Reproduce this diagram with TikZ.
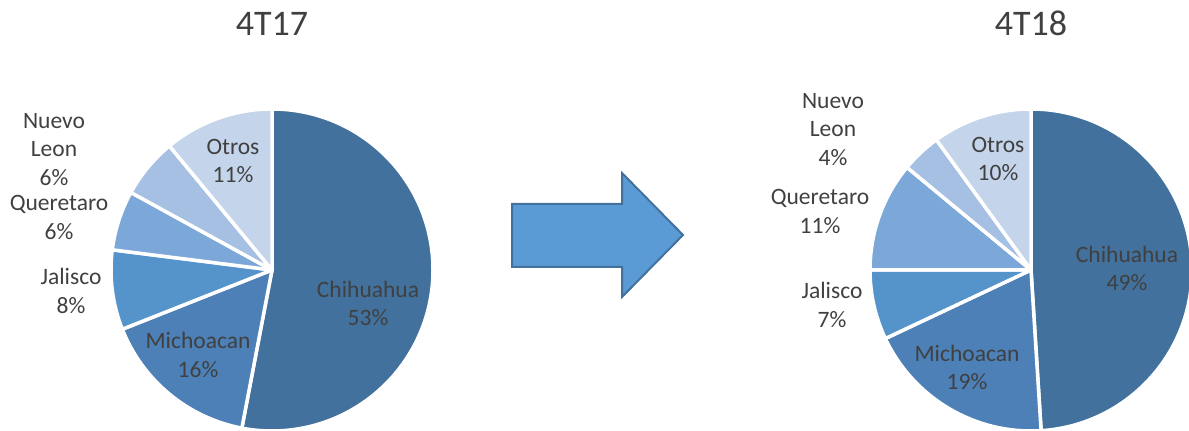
\documentclass[tikz,border=0pt]{standalone}
\usepackage{fontspec}
\setmainfont{Carlito}
\definecolor{chih}{HTML}{41719C}
\definecolor{mich}{HTML}{4C80B7}
\definecolor{jali}{HTML}{5593CB}
\definecolor{quer}{HTML}{7BA8D8}
\definecolor{nuev}{HTML}{A5C0E2}
\definecolor{otro}{HTML}{C4D4EA}
\definecolor{txtgray}{HTML}{404040}
\definecolor{arrfill}{HTML}{5B9BD5}

\begin{document}
\begin{tikzpicture}[line cap=round,line join=round,x=1pt,y=1pt,
	slice/.style={draw=white,line width=3.5pt},
	lbl/.style={text=txtgray,align=center,inner sep=0pt,font=\fontsize{23.5}{28.5}\selectfont},
	ttl/.style={text=txtgray,anchor=base,inner sep=0pt,font=\fontsize{36}{43}\selectfont}]
			\useasboundingbox (0,0) rectangle (1189,431);
			% 4T17
			\filldraw [shift={(272,161)},slice,fill=chih] (0,0) -- (90:161) arc (90:-100.8:161) -- cycle;
			\filldraw [shift={(272,161)},slice,fill=mich] (0,0) -- (-100.8:161) arc (-100.8:-158.4:161) -- cycle;
			\filldraw [shift={(272,161)},slice,fill=jali] (0,0) -- (-158.4:161) arc (-158.4:-187.2:161) -- cycle;
			\filldraw [shift={(272,161)},slice,fill=quer] (0,0) -- (-187.2:161) arc (-187.2:-208.8:161) -- cycle;
			\filldraw [shift={(272,161)},slice,fill=nuev] (0,0) -- (-208.8:161) arc (-208.8:-230.4:161) -- cycle;
			\filldraw [shift={(272,161)},slice,fill=otro] (0,0) -- (-230.4:161) arc (-230.4:-270:161) -- cycle;
			% 4T18
			\filldraw [shift={(1031,161)},slice,fill=chih] (0,0) -- (90:161) arc (90:-86.4:161) -- cycle;
			\filldraw [shift={(1031,161)},slice,fill=mich] (0,0) -- (-86.4:161) arc (-86.4:-154.8:161) -- cycle;
			\filldraw [shift={(1031,161)},slice,fill=jali] (0,0) -- (-154.8:161) arc (-154.8:-180:161) -- cycle;
			\filldraw [shift={(1031,161)},slice,fill=quer] (0,0) -- (-180:161) arc (-180:-219.6:161) -- cycle;
			\filldraw [shift={(1031,161)},slice,fill=nuev] (0,0) -- (-219.6:161) arc (-219.6:-234:161) -- cycle;
			\filldraw [shift={(1031,161)},slice,fill=otro] (0,0) -- (-234:161) arc (-234:-270:161) -- cycle;
			% arrow
			\filldraw [fill=arrfill,draw=chih,line width=2pt,line join=miter] (512,227) -- (622,227) -- (622,258) -- (683,196) -- (622,134) -- (622,164) -- (512,164) -- cycle;
			% labels
			\node[ttl] (tA) at (272,395) {4T17};
			\node[ttl] (tB) at (1031,395) {4T18};
			\node[lbl] (chA) at (368,127.5) {Chihuahua\\53\%};
			\node[lbl] (miA) at (198,76) {Michoacan\\16\%};
			\node[lbl] (jaA) at (71,140) {Jalisco\\8\%};
			\node[lbl] (quA) at (59,213.5) {Queretaro\\6\%};
			\node[lbl] (nuA) at (54,281.5) {Nuevo\\Leon\\6\%};
			\node[lbl] (otA) at (233,270) {Otros\\11\%};
			\node[lbl] (chB) at (1127,162.5) {Chihuahua\\49\%};
			\node[lbl] (miB) at (967,63.5) {Michoacan\\19\%};
			\node[lbl] (jaB) at (832,126) {Jalisco\\7\%};
			\node[lbl] (quB) at (820,219.5) {Queretaro\\11\%};
			\node[lbl] (nuB) at (833,301.5) {Nuevo\\Leon\\4\%};
			\node[lbl] (otB) at (998,272) {Otros\\10\%};
		\end{tikzpicture}
\end{document}
